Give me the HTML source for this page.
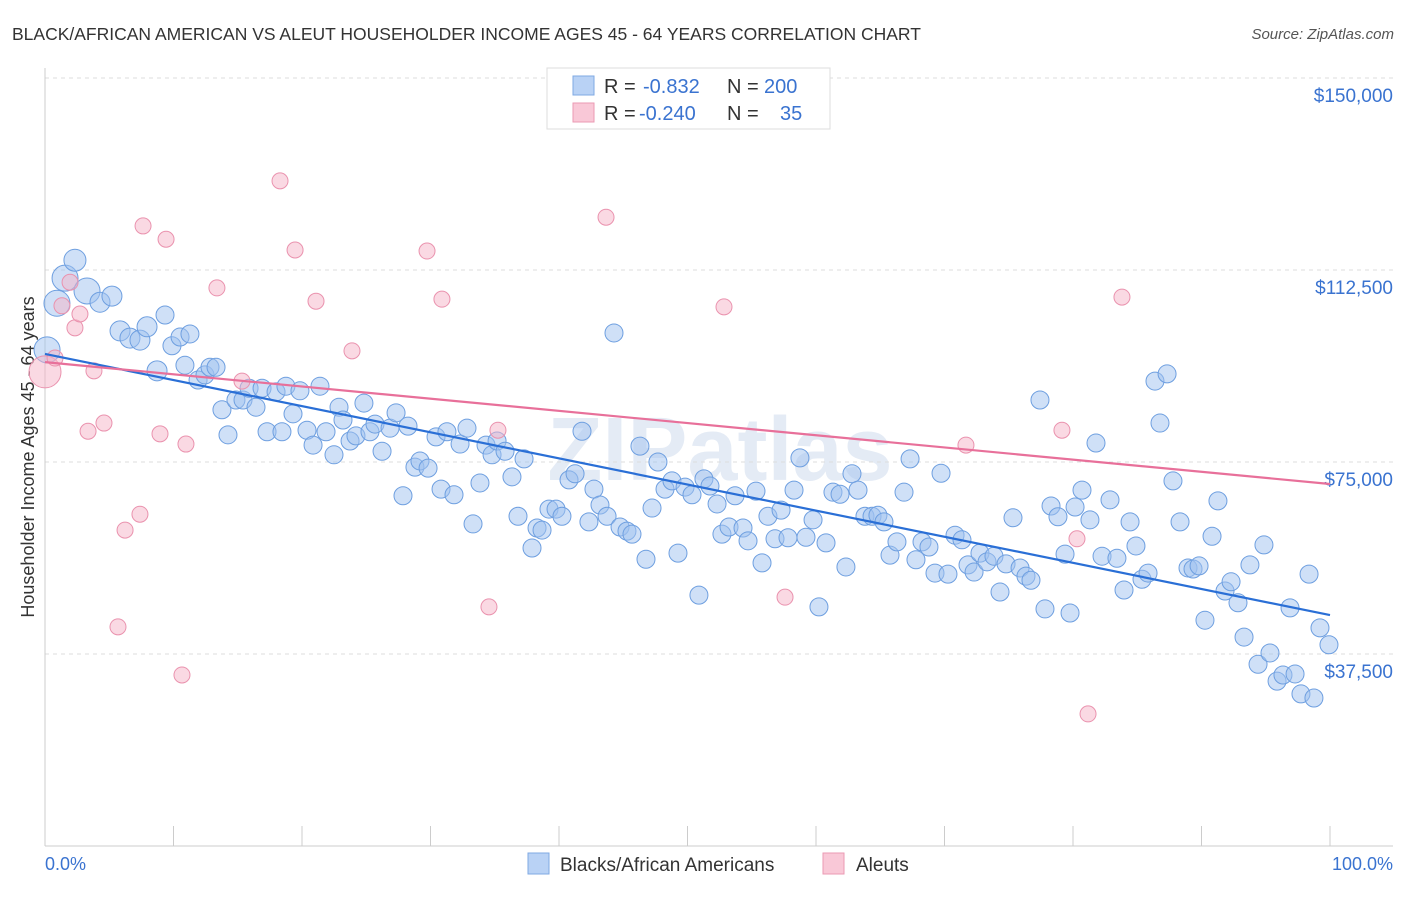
<!DOCTYPE html>
<html><head><meta charset="utf-8"><style>
body{margin:0;background:#fff;font-family:"Liberation Sans",sans-serif;}
svg text{font-family:"Liberation Sans",sans-serif;}
</style></head><body>
<svg id="c" width="1406" height="892" xmlns="http://www.w3.org/2000/svg">
<text x="12" y="40" font-size="17.5" fill="#333">BLACK/AFRICAN AMERICAN VS ALEUT HOUSEHOLDER INCOME AGES 45 - 64 YEARS CORRELATION CHART</text>
<text x="1394" y="39" font-size="15" fill="#555" font-style="italic" text-anchor="end">Source: ZipAtlas.com</text>
<text x="720" y="480" font-size="90" fill="#e4ebf5" text-anchor="middle" font-weight="bold">ZIPatlas</text>
<text transform="translate(34,457) rotate(-90)" font-size="18" fill="#333" text-anchor="middle">Householder Income Ages 45 - 64 years</text>
<g id="grid"></g><g id="pts"></g><g id="lines"></g>
<g>
<rect x="547" y="68" width="283" height="61" fill="#fff" stroke="#ddd"/>
<rect x="573" y="76" width="21" height="19" fill="#b9d2f5" stroke="#7fa9e3"/>
<text x="604" y="93" font-size="20" fill="#333">R = </text><text x="643" y="93" font-size="20" fill="#3a73d0">-0.832</text>
<text x="727" y="93" font-size="20" fill="#333">N = </text><text x="764" y="93" font-size="20" fill="#3a73d0">200</text>
<rect x="573" y="103" width="21" height="19" fill="#f9c8d7" stroke="#eb9ab3"/>
<text x="604" y="120" font-size="20" fill="#333">R = </text><text x="639" y="120" font-size="20" fill="#3a73d0">-0.240</text>
<text x="727" y="120" font-size="20" fill="#333">N = </text><text x="780" y="120" font-size="20" fill="#3a73d0">35</text>
</g>
<g>
<rect x="528" y="853" width="21" height="21" fill="#b9d2f5" stroke="#7fa9e3"/>
<text x="560" y="871" font-size="19" fill="#333">Blacks/African Americans</text>
<rect x="823" y="853" width="21" height="21" fill="#f9c8d7" stroke="#eb9ab3"/>
<text x="856" y="871" font-size="19" fill="#333">Aleuts</text>
</g>
<text x="45" y="870" font-size="18" fill="#3a73d0">0.0%</text>
<text x="1393" y="870" font-size="18" fill="#3a73d0" text-anchor="end">100.0%</text>
</svg>
<script>
const yTicks=[37.5,75,112.5,150];
const yTickLabels=["$37,500","$75,000","$112,500","$150,000"];
const blackPct=[0.16,0.93,1.56,2.33,3.27,4.28,5.21,5.84,6.61,7.39,7.94,8.72,9.34,9.88,10.51,10.89,11.28,11.91,12.45,12.84,13.31,13.77,14.24,14.86,15.41,15.88,16.42,16.89,17.28,17.98,18.44,18.75,19.30,19.84,20.39,20.86,21.40,21.87,22.49,22.88,23.19,23.74,24.20,24.82,25.29,25.68,26.23,26.85,27.32,27.86,28.25,28.79,29.18,29.81,30.43,30.82,31.28,31.83,32.30,32.84,33.31,33.85,34.32,34.79,35.18,35.80,36.34,36.81,37.28,37.90,38.29,38.68,39.22,39.77,40.23,40.78,41.25,41.79,42.33,42.72,43.19,43.74,44.28,44.75,45.29,45.68,46.30,46.77,47.24,47.70,48.25,48.79,49.26,49.81,50.35,50.89,51.28,51.75,52.30,52.68,53.23,53.70,54.32,54.71,55.33,55.80,56.26,56.81,57.28,57.82,58.29,58.75,59.22,59.77,60.23,60.78,61.32,61.87,62.33,62.80,63.27,63.81,64.36,64.82,65.29,65.76,66.30,66.85,67.32,67.78,68.25,68.79,69.26,69.73,70.27,70.82,71.36,71.83,72.30,72.76,73.31,73.85,74.32,74.79,75.33,75.88,76.34,76.73,77.43,77.82,78.29,78.83,79.38,79.77,80.16,80.70,81.32,81.79,82.26,82.88,83.42,83.97,84.44,84.90,85.37,85.84,86.38,86.77,87.32,87.78,88.33,88.95,89.34,89.81,90.27,90.82,91.28,91.83,92.30,92.84,93.31,93.77,94.40,94.86,95.33,95.88,96.34,96.89,97.28,97.74,98.37,98.75,99.22,99.92];
const blackIncome=[96.9,106.0,110.9,114.4,108.4,106.2,107.4,100.6,99.2,98.8,101.4,92.8,103.7,97.7,99.4,93.9,100.0,91.0,92.0,93.5,93.5,85.2,80.3,87.1,87.1,89.4,85.7,89.4,80.9,88.7,80.9,89.8,84.4,88.9,81.2,78.3,89.8,80.9,76.4,85.7,83.2,79.1,80.1,86.5,80.9,82.4,77.1,81.6,84.6,68.4,82.0,74.0,75.2,73.8,79.9,69.7,80.9,68.6,78.5,81.6,62.9,70.9,78.3,76.4,79.1,77.1,72.1,64.4,75.6,58.2,62.1,61.7,65.8,65.8,64.4,71.5,72.7,81.0,63.3,69.7,66.6,64.4,100.2,62.3,61.5,60.9,78.1,56.0,66.0,75.0,69.7,71.3,57.2,70.1,68.6,49.0,71.7,70.3,66.8,60.9,62.3,68.4,62.1,59.6,69.3,55.3,64.4,60.0,65.6,60.2,69.5,75.8,60.3,63.7,46.7,59.2,69.1,68.7,54.5,72.7,69.5,64.4,64.4,64.6,63.3,56.8,59.4,69.1,75.6,55.9,59.4,58.4,53.3,72.8,53.1,60.7,59.8,54.9,53.5,57.2,55.5,56.6,49.6,55.1,64.1,54.3,52.7,51.9,87.1,46.3,66.4,64.3,57.0,45.5,66.2,69.5,63.7,78.7,56.6,67.6,56.2,50.0,63.3,58.6,52.1,53.3,90.8,82.6,92.2,71.3,63.3,54.3,54.1,54.7,44.1,60.5,67.4,49.8,51.6,47.5,40.8,54.9,35.5,58.8,37.7,32.2,33.4,46.5,33.6,29.7,53.1,28.9,42.6,39.3];
const aleutPct=[0,0.78,1.32,1.95,2.33,2.72,3.35,3.81,4.59,5.68,6.23,7.39,7.63,8.95,9.42,10.66,10.97,13.38,15.33,18.29,19.46,21.09,23.89,29.73,30.89,34.55,35.25,43.66,52.84,57.59,71.67,79.14,80.31,81.17,83.81];
const aleutIncome=[92.6,95.3,105.5,110.1,101.2,103.9,81.0,92.8,82.6,42.8,61.7,64.8,121.1,80.5,118.5,33.4,78.5,109.0,90.8,129.9,116.4,106.4,96.7,116.2,106.8,46.7,81.2,122.8,105.3,48.6,78.3,81.2,60.0,25.8,107.2];
const blackTrend=[96.1,45.1];
const aleutTrend=[94.5,70.7];
const NS="http://www.w3.org/2000/svg";
const X=p=>45+p*12.85;
const Y=v=>846-v*1000/195.3;
function mk(t,a,parent){const e=document.createElementNS(NS,t);for(const k in a)e.setAttribute(k,a[k]);parent.appendChild(e);return e;}
const grid=document.getElementById('grid');
yTicks.forEach((t,i)=>{
  const l=mk('line',{x1:45,x2:1393,y1:Y(t),y2:Y(t),stroke:'#ddd','stroke-dasharray':'4,4'},grid);
  
  
  const tx=mk('text',{x:1393,y:Y(t)+24,'font-size':19,fill:'#3a73d0','text-anchor':'end'},grid);
  tx.textContent=yTickLabels[i];
  
  
});
const ax=mk('line',{x1:45,x2:45,y1:68,y2:846,stroke:'#ccc'},grid);


const bx=mk('line',{x1:45,x2:1393,y1:846,y2:846,stroke:'#ccc'},grid);


for(let i=1;i<=10;i++){
  const t=mk('line',{x1:X(i*10),x2:X(i*10),y1:826,y2:846,stroke:'#ccc'},grid);
  
  
}
const pts=document.getElementById('pts');
blackPct.forEach((p,i)=>{
  const r=i<5?(i==3?11:13):(i<12?10:9);
  const c=mk('circle',{cx:X(p),cy:Y(blackIncome[i]),r:r,fill:'rgba(160,193,240,0.5)',stroke:'#6e9fe0','stroke-width':1},pts);
  
  
});
aleutPct.forEach((p,i)=>{
  const r=i==0?16:8;
  const c=mk('circle',{cx:X(p),cy:Y(aleutIncome[i]),r:r,fill:'rgba(246,180,200,0.5)',stroke:'#ea92ae','stroke-width':1},pts);
  
  
});
const lines=document.getElementById('lines');
const l1=mk('line',{x1:X(0),y1:Y(blackTrend[0]),x2:X(100),y2:Y(blackTrend[1]),stroke:'#2a6fd6','stroke-width':2.2},lines);


const l2=mk('line',{x1:X(0),y1:Y(aleutTrend[0]),x2:X(100),y2:Y(aleutTrend[1]),stroke:'#e8709a','stroke-width':2.2},lines);


</script>
</body></html>
